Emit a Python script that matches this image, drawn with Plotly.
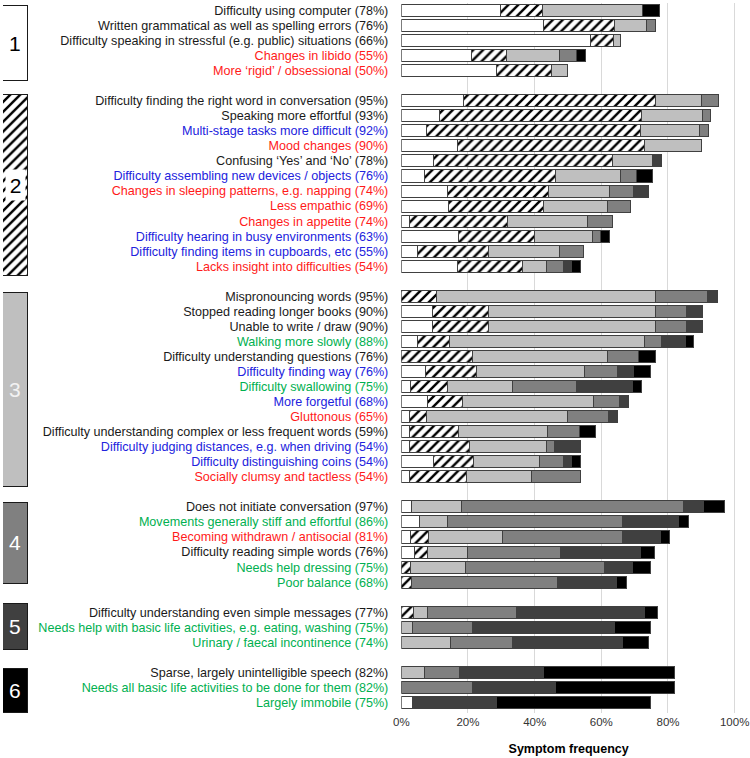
import plotly.graph_objects as go

# ---------------- data ----------------
group_names = ["1", "2", "3", "4", "5", "6"]
group_sizes = [5, 12, 13, 6, 3, 3]

labels = [
    "Difficulty using computer (78%)",
    "Written grammatical as well as spelling errors (76%)",
    "Difficulty speaking in stressful (e.g. public) situations (66%)",
    "Changes in libido (55%)",
    "More \u2018rigid\u2019 / obsessional (50%)",
    "Difficulty finding the right word in conversation (95%)",
    "Speaking more effortful (93%)",
    "Multi-stage tasks more difficult (92%)",
    "Mood changes (90%)",
    "Confusing \u2018Yes\u2019 and \u2018No\u2019 (78%)",
    "Difficulty assembling new devices / objects (76%)",
    "Changes in sleeping patterns, e.g. napping (74%)",
    "Less empathic (69%)",
    "Changes in appetite (74%)",
    "Difficulty hearing in busy environments (63%)",
    "Difficulty finding items in cupboards, etc (55%)",
    "Lacks insight into difficulties (54%)",
    "Mispronouncing words (95%)",
    "Stopped reading longer books (90%)",
    "Unable to write / draw (90%)",
    "Walking more slowly (88%)",
    "Difficulty understanding questions (76%)",
    "Difficulty finding way (76%)",
    "Difficulty swallowing (75%)",
    "More forgetful (68%)",
    "Gluttonous (65%)",
    "Difficulty understanding complex or less frequent words (59%)",
    "Difficulty judging distances, e.g. when driving (54%)",
    "Difficulty distinguishing coins (54%)",
    "Socially clumsy and tactless (54%)",
    "Does not initiate conversation (97%)",
    "Movements generally stiff and effortful (86%)",
    "Becoming withdrawn / antisocial (81%)",
    "Difficulty reading simple words (76%)",
    "Needs help dressing (75%)",
    "Poor balance (68%)",
    "Difficulty understanding even simple messages (77%)",
    "Needs help with basic life activities, e.g. eating, washing (75%)",
    "Urinary / faecal incontinence (74%)",
    "Sparse, largely unintelligible speech (82%)",
    "Needs all basic life activities to be done for them (82%)",
    "Largely immobile (75%)",
]

label_kind = [
    "k", "k", "k", "r", "r",
    "k", "k", "b", "r", "k", "b", "r", "r", "r", "b", "b", "r",
    "k", "k", "k", "g", "k", "b", "g", "b", "r", "k", "b", "b", "r",
    "k", "g", "r", "k", "g", "g",
    "k", "g", "g",
    "k", "g", "g",
]

stage1 = [29.9, 42.7, 56.8, 21.0, 28.6,
          18.8, 11.5, 7.6, 17.0, 9.7, 7.1, 13.9, 14.1, 2.4, 17.3, 4.8, 17.0,
          0, 9.4, 9.4, 4.8, 0, 7.3, 2.7, 7.8, 2.4, 2.4, 2.4, 9.6, 2.4,
          3.0, 5.6, 2.7, 4.0, 0, 0,
          0, 0, 0,
          0, 0, 3.5]
stage2 = [12.6, 21.4, 6.8, 10.6, 16.6,
          57.4, 60.6, 64.3, 56.1, 53.8, 39.3, 30.2, 28.7, 29.5, 22.7, 21.4, 19.5,
          10.6, 16.8, 16.8, 9.7, 21.3, 15.3, 11.2, 10.6, 5.1, 14.7, 18.1, 12.1, 17.1,
          0, 0, 5.5, 3.9, 2.7, 3.0,
          3.8, 0, 0,
          0, 0, 0]
stage3 = [30.0, 9.6, 2.1, 15.9, 4.8,
          14.0, 18.4, 17.7, 17.1, 12.0, 19.3, 18.4, 19.0, 24.0, 17.4, 21.3, 7.2,
          65.6, 50.0, 50.0, 58.6, 40.5, 32.5, 19.5, 39.4, 42.5, 26.7, 23.0, 19.7, 19.7,
          15.0, 8.2, 22.2, 12.0, 16.7, 0,
          4.0, 3.5, 14.8,
          7.1, 0, 0]
stage4 = [0, 2.5, 0, 5.0, 0,
          4.9, 2.4, 2.6, 0, 0, 4.9, 7.1, 7.0, 7.6, 2.4, 7.2, 5.0,
          15.6, 9.5, 9.5, 4.9, 9.3, 9.8, 19.2, 7.8, 12.2, 9.8, 2.5, 7.3, 14.5,
          66.8, 52.6, 36.0, 27.9, 41.6, 43.9,
          26.8, 17.8, 18.6,
          10.5, 21.3, 0]
stage5 = [0, 0, 0, 0, 0,
          0, 0, 0, 0, 2.6, 0, 4.7, 0, 0, 0, 0, 2.3,
          3.0, 4.6, 4.6, 7.3, 0, 4.9, 16.7, 2.6, 2.8, 0, 7.7, 2.3, 0,
          6.0, 16.8, 11.3, 24.1, 8.3, 17.6,
          38.3, 42.7, 33.0,
          25.0, 24.9, 25.1]
stage6 = [5.0, 0, 0, 2.8, 0,
          0, 0, 0, 0, 0, 4.9, 0, 0, 0, 2.6, 0, 2.7,
          0, 0, 0, 2.4, 5.2, 5.1, 2.7, 0, 0, 4.8, 0, 2.7, 0,
          6.1, 3.0, 2.8, 4.1, 5.6, 3.1,
          4.0, 10.9, 7.7,
          39.4, 35.8, 46.3]

x_ticks = [0, 20, 40, 60, 80, 100]
x_tick_labels = ["0%", "20%", "40%", "60%", "80%", "100%"]

# ---------------- styling ----------------
stage_fill = ["#ffffff", "#ffffff", "#bfbfbf", "#808080", "#404040", "#000000"]
stage_pattern = ["", "/", "", "", "", ""]
kind_color = {"k": "#1a1a1a", "r": "#ff1a1a", "b": "#2222dd", "g": "#00b050"}
FONT = "Liberation Sans, Arial, sans-serif"

# row slots (one blank slot between groups)
slots = []
pos = 0
for gsize in group_sizes:
    for _ in range(gsize):
        slots.append(pos)
        pos += 1
    pos += 1

ticktext = [f'<span style="color:{kind_color[k]}">{t}</span>'
            for t, k in zip(labels, label_kind)]

fig = go.Figure()
for i, vals in enumerate([stage1, stage2, stage3, stage4, stage5, stage6]):
    fig.add_trace(go.Bar(
        y=slots,
        x=[v if v > 0 else None for v in vals],
        orientation="h",
        marker=dict(
            color=stage_fill[i],
            line=dict(color="#404040", width=1),
            pattern=dict(shape=stage_pattern[i], fgcolor="#000000",
                         bgcolor="#ffffff", size=7, solidity=0.35,
                         fillmode="replace"),
        ),
        showlegend=False,
        hoverinfo="skip",
    ))

# group boxes on the left
box_top = [-0.33, 5.6, 18.72, 32.69, 39.4, 43.72]
box_bot = [4.65, 17.61, 31.67, 38.07, 42.46, 46.64]
box_fill = ["#ffffff", "#ffffff", "#bfbfbf", "#808080", "#404040", "#000000"]
box_pat = ["", "/", "", "", "", ""]
for g in range(6):
    fig.add_trace(go.Bar(
        y=[(box_top[g] + box_bot[g]) / 2],
        x=[1],
        width=[box_bot[g] - box_top[g]],
        orientation="h",
        xaxis="x2", yaxis="y",
        marker=dict(
            color=box_fill[g],
            line=dict(color="#1a1a1a", width=1),
            pattern=dict(shape=box_pat[g], fgcolor="#000000", bgcolor="#ffffff",
                         size=7, solidity=0.35, fillmode="replace"),
        ),
        showlegend=False, hoverinfo="skip",
    ))

num_colors = ["#000000", "#000000", "#f2f2f2", "#ffffff", "#ffffff", "#ffffff"]
for g, name in enumerate(group_names):
    extra = {}
    if g == 1:
        extra = dict(bgcolor="rgba(255,255,255,1)", width=19, height=30, borderpad=0)
    fig.add_annotation(
        x=0.5, y=(box_top[g] + box_bot[g]) / 2, xref="x2", yref="y",
        text=name, showarrow=False,
        font=dict(size=21, color=num_colors[g], family=FONT),
        **extra,
    )

W = 750
plot_left = 401.5
x_max = 100.4
px_per_unit = (735 - plot_left) / 100.0
plot_right = plot_left + x_max * px_per_unit
fig.update_layout(
    width=W, height=758,
    margin=dict(l=0, r=W - plot_right, t=2.5, b=45, autoexpand=False),
    barmode="stack",
    bargap=0.2,
    plot_bgcolor="#ffffff",
    paper_bgcolor="#ffffff",
    font=dict(family=FONT, size=12.6, color="#1a1a1a"),
    xaxis=dict(
        domain=[plot_left / plot_right, 1.0],
        range=[0, x_max],
        tickvals=x_ticks, ticktext=x_tick_labels,
        showgrid=True, gridcolor="#d9d9d9", gridwidth=1,
        zeroline=False, showline=False, ticks="",
        tickfont=dict(size=11.5, color="#333333"),
        title=dict(text="<b>Symptom frequency</b>", font=dict(size=12.5, color="#000000"),
                   standoff=17),
        automargin=False,
        fixedrange=True,
    ),
    xaxis2=dict(
        domain=[3 / plot_right, 28 / plot_right],
        range=[0, 1], visible=False, fixedrange=True, automargin=False,
    ),
    yaxis=dict(
        range=[46.7, -0.5],
        tickvals=slots, ticktext=ticktext,
        showgrid=False, zeroline=False, showline=False, ticks="",
        ticklabelstandoff=12,
        tickfont=dict(size=12.6),
        automargin=False,
        fixedrange=True,
    ),
)

fig.write_html(
    "out.html",
    config={"displayModeBar": False},
    post_script="document.body.style.margin='0';document.body.style.overflow='hidden';",
)
